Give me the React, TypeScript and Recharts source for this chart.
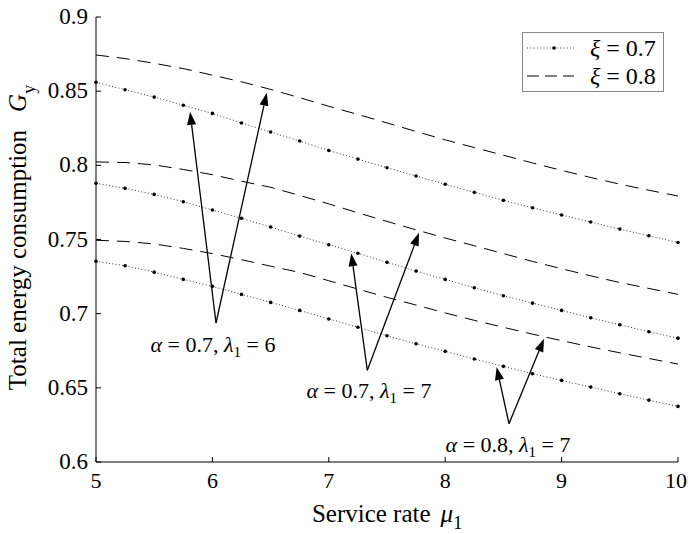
import { ComposedChart, Line, XAxis, YAxis, ReferenceLine, ReferenceDot, Legend } from 'recharts'

const FONT = '"Liberation Serif", "Times New Roman", Times, serif'

const muValues = [5, 5.25, 5.5, 5.75, 6, 6.25, 6.5, 6.75, 7, 7.25, 7.5, 7.75, 8, 8.25, 8.5, 8.75, 9, 9.25, 9.5, 9.75, 10]

// alpha = 0.7, lambda1 = 6
const a07l6xi07 = [0.856, 0.851, 0.846, 0.8405, 0.835, 0.8285, 0.8225, 0.8164, 0.81, 0.8042, 0.7984, 0.7928, 0.7872, 0.7818, 0.7764, 0.7714, 0.7665, 0.7618, 0.757, 0.7525, 0.748]
const a07l6xi08 = [0.8744, 0.872, 0.8688, 0.8652, 0.8608, 0.8563, 0.8512, 0.8456, 0.8398, 0.8343, 0.8286, 0.8228, 0.8172, 0.812, 0.8068, 0.8016, 0.7966, 0.7918, 0.7873, 0.7832, 0.7793]
// alpha = 0.7, lambda1 = 7
const a07l7xi07 = [0.7879, 0.7845, 0.7804, 0.7755, 0.7699, 0.7643, 0.7584, 0.7523, 0.7465, 0.7407, 0.7346, 0.7287, 0.7231, 0.7175, 0.7121, 0.7071, 0.7022, 0.6972, 0.6925, 0.6878, 0.6835]
const a07l7xi08 = [0.8023, 0.8019, 0.8003, 0.7972, 0.7937, 0.7893, 0.7852, 0.7797, 0.774, 0.768, 0.7622, 0.7565, 0.751, 0.7458, 0.7405, 0.7352, 0.7303, 0.7255, 0.721, 0.717, 0.713]
// alpha = 0.8, lambda1 = 7
const a08l7xi07 = [0.7353, 0.7323, 0.728, 0.7231, 0.7184, 0.713, 0.7076, 0.7022, 0.6964, 0.6908, 0.6851, 0.6797, 0.6746, 0.6694, 0.6645, 0.6595, 0.655, 0.6505, 0.646, 0.6417, 0.6375]
const a08l7xi08 = [0.7495, 0.7487, 0.747, 0.744, 0.7405, 0.7364, 0.732, 0.7278, 0.7222, 0.7166, 0.711, 0.7058, 0.7005, 0.6955, 0.6908, 0.6862, 0.6818, 0.6776, 0.6736, 0.6698, 0.666]

const xTicks = [5, 6, 7, 8, 9, 10]
const xTickLabels = ['5', '6', '7', '8', '9', '10']
const yTicks = [0.6, 0.65, 0.7, 0.75, 0.8, 0.85, 0.9]
const yTickLabels = ['0.6', '0.65', '0.7', '0.75', '0.8', '0.85', '0.9']

// annotation arrows: base point and two arrow tips, plus label anchor
const notes = [
  { alpha: '0.7', lambda: '6', base: { x: 6.031, y: 0.6937 }, tips: [{ x: 5.808, y: 0.8361 }, { x: 6.467, y: 0.849 }], label: { x: 6.005, y: 0.6741 } },
  { alpha: '0.7', lambda: '7', base: { x: 7.331, y: 0.6618 }, tips: [{ x: 7.193, y: 0.7407 }, { x: 7.775, y: 0.7545 }], label: { x: 7.345, y: 0.6431 } },
  { alpha: '0.8', lambda: '7', base: { x: 8.548, y: 0.6258 }, tips: [{ x: 8.442, y: 0.664 }, { x: 8.849, y: 0.6831 }], label: { x: 8.54, y: 0.6067 } },
]

const rows = muValues.map((mu, i) => ({
  mu,
  a07l6xi07: a07l6xi07[i],
  a07l6xi08: a07l6xi08[i],
  a07l7xi07: a07l7xi07[i],
  a07l7xi08: a07l7xi08[i],
  a08l7xi07: a08l7xi07[i],
  a08l7xi08: a08l7xi08[i],
}))

const DOTTED = '1 2.3'
const DASHED = '13 8'

const BottomTick = (props: any) => {
  const { x, y, payload } = props
  const i = xTicks.indexOf(payload.value)
  const last = i === xTicks.length - 1
  return (
    <g>
      <line x1={x} y1={y} x2={x} y2={y - 5} stroke="#000" />
      <text x={last ? x + 9 : x} y={y + 26} textAnchor={last ? 'end' : 'middle'} fontFamily={FONT} fontSize={22} fill="#000">
        {xTickLabels[i]}
      </text>
    </g>
  )
}

const LeftTick = (props: any) => {
  const { x, y, payload } = props
  const i = yTicks.indexOf(payload.value)
  return (
    <g>
      <line x1={x} y1={y} x2={x + 5} y2={y} stroke="#000" />
      <text x={x - 8} y={y + 7} textAnchor="end" fontFamily={FONT} fontSize={23} fill="#000">
        {yTickLabels[i]}
      </text>
    </g>
  )
}

const TopTick = (props: any) => <line x1={props.x} y1={props.y} x2={props.x} y2={props.y + 5} stroke="#000" />
const RightTick = (props: any) => <line x1={props.x} y1={props.y} x2={props.x - 5} y2={props.y} stroke="#000" />

const XTitle = (props: any) => {
  const vb = props.viewBox
  return (
    <text x={vb.x + vb.width / 2} y={vb.y + 60} textAnchor="middle" fontFamily={FONT} fontSize={25} fill="#000">
      Service rate
      <tspan dx={10} fontStyle="italic">μ</tspan>
      <tspan dy={7} fontSize={18}>1</tspan>
    </text>
  )
}

const YTitle = (props: any) => {
  const vb = props.viewBox
  const cx = vb.x - 10
  const cy = vb.y + vb.height / 2 - 2
  return (
    <text x={cx} y={cy} transform={`rotate(-90 ${cx} ${cy})`} textAnchor="middle" fontFamily={FONT} fontSize={25} fill="#000">
      Total energy consumption
      <tspan dx={18} fontStyle="italic">G</tspan>
      <tspan dy={9} fontSize={18}>y</tspan>
    </text>
  )
}

const Arrow = (props: any) => {
  const { x1, y1, x2, y2 } = props
  const ang = Math.atan2(y2 - y1, x2 - x1)
  const L = 13
  const W = 4.5
  const bx = x2 - L * Math.cos(ang)
  const by = y2 - L * Math.sin(ang)
  const px = W * Math.sin(ang)
  const py = W * Math.cos(ang)
  return (
    <g>
      <line x1={x1} y1={y1} x2={bx} y2={by} stroke="#000" strokeWidth={1.3} />
      <polygon points={`${x2},${y2} ${bx + px},${by - py} ${bx - px},${by + py}`} fill="#000" />
    </g>
  )
}

const noteLabel = (alpha: string, lambda: string) => (props: any) => (
  <text x={props.cx} y={props.cy} textAnchor="middle" fontFamily={FONT} fontSize={22} fill="#000">
    <tspan fontStyle="italic">α</tspan>
    {` = ${alpha}, `}
    <tspan fontStyle="italic">λ</tspan>
    <tspan dy={5} fontSize={15}>1</tspan>
    <tspan dy={-5}>{` = ${lambda}`}</tspan>
  </text>
)

const LegendBox = (props: any) => {
  const items = (props.payload || []).filter((p: any) => p.type !== 'none')
  return (
    <svg width={142} height={60} style={{ display: 'block' }}>
      <rect x={0.5} y={0.5} width={141} height={59} fill="#fff" stroke="#888" />
      {items.map((it: any, i: number) => {
        const cy = 16 + i * 28
        const dash = it.payload?.strokeDasharray
        const dotted = dash === DOTTED
        const name = String(it.value)
        return (
          <g key={name}>
            <line x1={5} x2={52} y1={cy} y2={cy} stroke="#000" strokeWidth={dotted ? 0.8 : 1} strokeDasharray={dotted ? DOTTED : '12 6'} />
            {dotted && <circle cx={32} cy={cy} r={1.8} fill="#000" />}
            <text x={68} y={cy + 8} fontFamily={FONT} fontSize={24} fill="#000">
              <tspan fontStyle="italic">{name.slice(0, 1)}</tspan>
              {name.slice(1)}
            </text>
          </g>
        )
      })}
    </svg>
  )
}

const dotStyle = { r: 1.8, fill: '#000', stroke: 'none' }

export default function App() {
  return (
    <div style={{ position: 'absolute', left: 0, top: 0, background: '#fff' }}>
      <ComposedChart width={688} height={534} data={rows} margin={{ top: 17, right: 10, bottom: 42, left: 36 }}>
        <XAxis dataKey="mu" type="number" domain={[5, 10]} ticks={xTicks} tickSize={0} tickMargin={0} tickLine={false}
          tick={<BottomTick />} axisLine={{ stroke: '#000' }} height={30} label={<XTitle />} />
        <XAxis xAxisId="top" orientation="top" type="number" domain={[5, 10]} ticks={xTicks} tickSize={0} tickMargin={0}
          tickLine={false} tick={<TopTick />} axisLine={{ stroke: '#000' }} height={0} />
        <YAxis type="number" domain={[0.6, 0.9]} ticks={yTicks} tickSize={0} tickMargin={0} tickLine={false}
          tick={<LeftTick />} axisLine={{ stroke: '#000' }} width={60} label={<YTitle />} />
        <YAxis yAxisId="right" orientation="right" type="number" domain={[0.6, 0.9]} ticks={yTicks} tickSize={0}
          tickMargin={0} tickLine={false} tick={<RightTick />} axisLine={{ stroke: '#000' }} width={0} />

        <Line dataKey="a07l6xi07" name="ξ = 0.7" stroke="#000" strokeWidth={0.8} strokeDasharray={DOTTED} dot={dotStyle} isAnimationActive={false} />
        <Line dataKey="a07l6xi08" name="ξ = 0.8" stroke="#000" strokeWidth={1} strokeDasharray={DASHED} dot={false} isAnimationActive={false} />
        <Line dataKey="a07l7xi07" legendType="none" stroke="#000" strokeWidth={0.8} strokeDasharray={DOTTED} dot={dotStyle} isAnimationActive={false} />
        <Line dataKey="a07l7xi08" legendType="none" stroke="#000" strokeWidth={1} strokeDasharray={DASHED} dot={false} isAnimationActive={false} />
        <Line dataKey="a08l7xi07" legendType="none" stroke="#000" strokeWidth={0.8} strokeDasharray={DOTTED} dot={dotStyle} isAnimationActive={false} />
        <Line dataKey="a08l7xi08" legendType="none" stroke="#000" strokeWidth={1} strokeDasharray={DASHED} dot={false} isAnimationActive={false} />

        {notes.map((n, k) =>
          n.tips.map((t, j) => (
            <ReferenceLine key={`arrow-${k}-${j}`} segment={[n.base, t]} ifOverflow="visible" shape={<Arrow />} />
          ))
        )}
        {notes.map((n, k) => (
          <ReferenceDot key={`label-${k}`} x={n.label.x} y={n.label.y} r={0} ifOverflow="visible" shape={noteLabel(n.alpha, n.lambda)} />
        ))}

        <Legend content={<LegendBox />} layout="horizontal" verticalAlign="middle" align="center"
          wrapperStyle={{ left: 522, top: 32, width: 142, height: 60 }} />
      </ComposedChart>
    </div>
  )
}
